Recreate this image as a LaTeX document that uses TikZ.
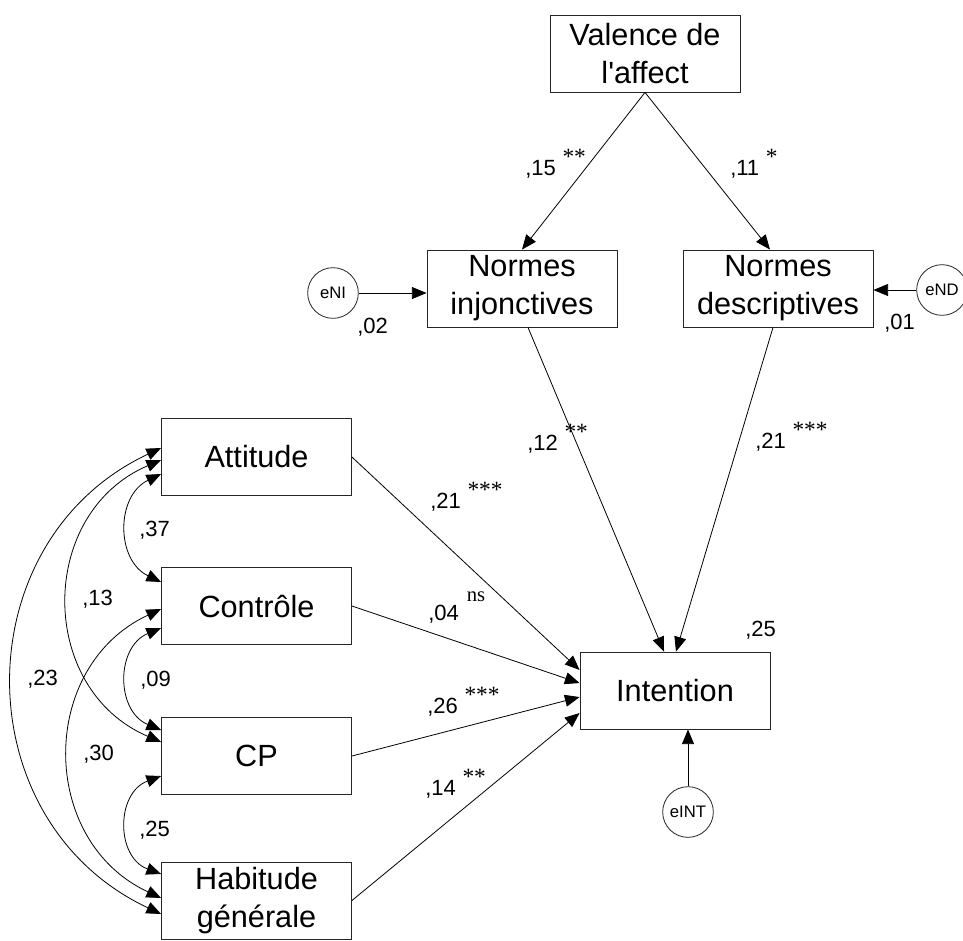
\documentclass[tikz,border=0pt]{standalone}
\usepackage{fontspec}
\setmainfont{Liberation Sans}
\newfontfamily\serifast{Liberation Serif}
\newfontfamily\aposfont{Liberation Sans}
\usetikzlibrary{arrows.meta}
\newcommand\sigst[1]{\hspace{5pt}\raisebox{8pt}{\fontsize{17.5}{18}\selectfont\serifast #1}}
\newcommand\signs{\hspace{6pt}\raisebox{14pt}{\fontsize{15.5}{16}\selectfont\serifast ns}}
\begin{document}
\begin{tikzpicture}[x=0.75pt,y=-0.75pt,
  vbox/.style={draw=black!85, line width=0.65pt, minimum width=142.5pt, minimum height=57.75pt, inner sep=0pt, align=center, font=\fontsize{23}{28.5}\selectfont},
  err/.style={draw=black!85, line width=0.6pt, circle, minimum size=38pt, inner sep=0pt, font=\fontsize{12.5}{14}\selectfont},
  arr/.style={-{Triangle[length=11pt,width=9pt]}, line width=0.6pt},
  cov/.style={{Triangle[length=11pt,width=9pt]}-{Triangle[length=11pt,width=9pt]}, line width=0.6pt},
  lab/.style={anchor=base west, inner sep=0pt, font=\fontsize{16.5}{18}\selectfont},
]
\useasboundingbox[fill=white] (0,0) rectangle (963,940);

% boxes
\node[vbox] (val) at (645,53.5) {Valence de\\l{\aposfont'}affect};
\node[vbox] (ni) at (522,288.5) {Normes\\injonctives};
\node[vbox] (nd) at (778,288.5) {Normes\\descriptives};
\node[vbox] (att) at (256.5,457) {Attitude};
\node[vbox] (con) at (256.5,606) {Contrôle};
\node[vbox] (cp) at (256.5,756) {CP};
\node[vbox] (hab) at (256.5,900.5) {Habitude\\générale};
\node[vbox] (int) at (675,690.5) {Intention};

% error terms
\node[err] (eni) at (333,293) {eNI};
\node[err] (end) at (942,290) {eND};
\node[err] (eint) at (688,812) {eINT};

% paths
\draw[arr] (val.south) -- (ni.north);
\draw[arr] (val.south) -- ([xshift=-6pt]nd.north);
\draw[arr] ([xshift=4.5pt]ni.south) -- ([xshift=-8.25pt]int.north);
\draw[arr] ([xshift=-3.75pt]nd.south) -- ([xshift=0.75pt]int.north);
\draw[arr] (att.east) -- ([yshift=15.4pt]int.west);
\draw[arr] (con.east) -- ([yshift=5.6pt]int.west);
\draw[arr] (cp.east) -- ([yshift=-4.9pt]int.west);
\draw[arr] (hab.east) -- ([yshift=-16.9pt]int.west);
\draw[arr] (eni.east) -- (eni.east -| ni.west);
\draw[arr] (end.west) -- (end.west -| nd.east);
\draw[arr] (eint.north) -- (eint.north |- int.south);

% covariances
\draw[cov] ([yshift=-12.75pt]att.west) .. controls (115.7,495.7) and (115.7,560.3) .. ([yshift=18pt]con.west);
\draw[cov] ([yshift=-16.5pt]con.west) .. controls (115.7,646.9) and (115.7,711.1) .. ([yshift=19.5pt]cp.west);
\draw[cov] ([yshift=-15pt]cp.west) .. controls (115.7,792.9) and (115.7,857.1) .. ([yshift=19.9pt]hab.west);
\draw[cov] ([yshift=-2.25pt]att.west) .. controls (37.1,513.1) and (37.1,688.9) .. ([yshift=10.5pt]cp.west);
\draw[cov] ([yshift=-2.25pt]con.west) .. controls (38.2,666.3) and (38.2,840.7) .. ([yshift=1.9pt]hab.west);
\draw[cov] ([yshift=6.75pt]att.west) .. controls (-36.6,540.8) and (-36.6,821.2) .. ([yshift=-10.1pt]hab.west);

% labels
\node[lab] (l15) at (525,175) {,15\sigst{**}};
\node[lab] (l11) at (730,175) {,11\sigst{*}};
\node[lab] (l12) at (527,450) {,12\sigst{**}};
\node[lab] (l21b) at (755,448) {,21\sigst{***}};
\node[lab] (l21a) at (430,508) {,21\sigst{***}};
\node[lab] (l04) at (428,620) {,04\signs};
\node[lab] (l26) at (427,713) {,26\sigst{***}};
\node[lab] (l14) at (425,795) {,14\sigst{**}};
\node[lab] (r25) at (745,636) {,25};
\node[lab] (r02) at (357,333) {,02};
\node[lab] (r01) at (884,329) {,01};
\node[lab] (c37) at (139,536) {,37};
\node[lab] (c13) at (82,605) {,13};
\node[lab] (c09) at (140,686) {,09};
\node[lab] (c23) at (27,685) {,23};
\node[lab] (c30) at (83,760) {,30};
\node[lab] (c25) at (139,836) {,25};
\end{tikzpicture}
\end{document}
